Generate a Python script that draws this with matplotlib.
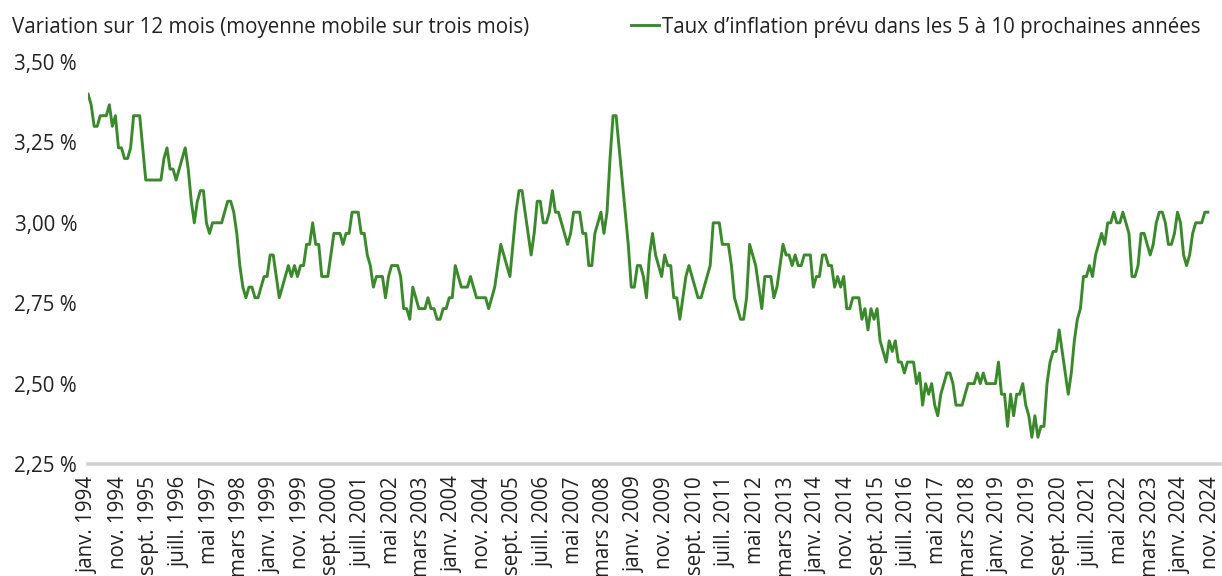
import matplotlib.pyplot as plt
from matplotlib.lines import Line2D

plt.rcParams['font.family'] = ['Open Sans', 'DejaVu Sans']

# ---- texts ----
header = "Variation sur 12 mois (moyenne mobile sur trois mois)"
series_label = "Taux d’inflation prévu dans les 5 à 10 prochaines années"

# ---- x axis: monthly, starting janv. 1994, one label every 10 months ----
start_year = 1994
month_names = ['janv.', 'févr.', 'mars', 'avr.', 'mai', 'juin',
               'juill.', 'août', 'sept.', 'oct.', 'nov.', 'déc.']
label_step = 10

# ---- expected inflation, 5-10 years ahead (3-month moving average), % ----
inflation_5_10 = [
    3.400, 3.367, 3.300, 3.300, 3.333, 3.333, 3.333, 3.367, 3.300, 3.333,
    3.233, 3.233, 3.200, 3.200, 3.233, 3.333, 3.333, 3.333, 3.233, 3.133,
    3.133, 3.133, 3.133, 3.133, 3.133, 3.200, 3.233, 3.167, 3.167, 3.133,
    3.167, 3.200, 3.233, 3.167, 3.067, 3.000, 3.067, 3.100, 3.100, 3.000,
    2.967, 3.000, 3.000, 3.000, 3.000, 3.033, 3.067, 3.067, 3.033, 2.967,
    2.867, 2.800, 2.767, 2.800, 2.800, 2.767, 2.767, 2.800, 2.833, 2.833,
    2.900, 2.900, 2.833, 2.767, 2.800, 2.833, 2.867, 2.833, 2.867, 2.833,
    2.867, 2.867, 2.933, 2.933, 3.000, 2.933, 2.933, 2.833, 2.833, 2.833,
    2.900, 2.967, 2.967, 2.967, 2.933, 2.967, 2.967, 3.033, 3.033, 3.033,
    2.967, 2.967, 2.900, 2.867, 2.800, 2.833, 2.833, 2.833, 2.767, 2.833,
    2.867, 2.867, 2.867, 2.833, 2.733, 2.733, 2.700, 2.800, 2.767, 2.733,
    2.733, 2.733, 2.767, 2.733, 2.733, 2.700, 2.700, 2.733, 2.733, 2.767,
    2.767, 2.867, 2.833, 2.800, 2.800, 2.800, 2.833, 2.800, 2.767, 2.767,
    2.767, 2.767, 2.733, 2.767, 2.800, 2.867, 2.933, 2.900, 2.867, 2.833,
    2.933, 3.033, 3.100, 3.100, 3.033, 2.967, 2.900, 2.967, 3.067, 3.067,
    3.000, 3.000, 3.033, 3.100, 3.033, 3.033, 3.000, 2.967, 2.933, 2.967,
    3.033, 3.033, 3.033, 2.967, 2.967, 2.867, 2.867, 2.967, 3.000, 3.033,
    2.967, 3.033, 3.200, 3.333, 3.333, 3.233, 3.133, 3.033, 2.933, 2.800,
    2.800, 2.867, 2.867, 2.833, 2.767, 2.900, 2.967, 2.900, 2.867, 2.833,
    2.900, 2.867, 2.867, 2.767, 2.767, 2.700, 2.767, 2.833, 2.867, 2.833,
    2.800, 2.767, 2.767, 2.800, 2.833, 2.867, 3.000, 3.000, 3.000, 2.933,
    2.933, 2.933, 2.867, 2.767, 2.733, 2.700, 2.700, 2.767, 2.933, 2.900,
    2.867, 2.800, 2.733, 2.833, 2.833, 2.833, 2.767, 2.800, 2.867, 2.933,
    2.900, 2.900, 2.867, 2.900, 2.867, 2.867, 2.900, 2.900, 2.900, 2.800,
    2.833, 2.833, 2.900, 2.900, 2.867, 2.867, 2.800, 2.833, 2.800, 2.833,
    2.733, 2.733, 2.767, 2.767, 2.767, 2.700, 2.733, 2.667, 2.733, 2.700,
    2.733, 2.633, 2.600, 2.567, 2.633, 2.600, 2.633, 2.567, 2.567, 2.533,
    2.567, 2.567, 2.567, 2.500, 2.533, 2.433, 2.500, 2.467, 2.500, 2.433,
    2.400, 2.467, 2.500, 2.533, 2.533, 2.500, 2.433, 2.433, 2.433, 2.467,
    2.500, 2.500, 2.500, 2.533, 2.500, 2.533, 2.500, 2.500, 2.500, 2.500,
    2.567, 2.467, 2.467, 2.367, 2.467, 2.400, 2.467, 2.467, 2.500, 2.433,
    2.400, 2.333, 2.400, 2.333, 2.367, 2.367, 2.500, 2.567, 2.600, 2.600,
    2.667, 2.600, 2.533, 2.467, 2.533, 2.633, 2.700, 2.733, 2.833, 2.833,
    2.867, 2.833, 2.900, 2.933, 2.967, 2.933, 3.000, 3.000, 3.033, 3.000,
    3.000, 3.033, 3.000, 2.967, 2.833, 2.833, 2.867, 2.967, 2.967, 2.933,
    2.900, 2.933, 3.000, 3.033, 3.033, 3.000, 2.933, 2.933, 2.967, 3.033,
    3.000, 2.900, 2.867, 2.900, 2.967, 3.000, 3.000, 3.000, 3.033, 3.033,
]

y_ticks = [2.25, 2.50, 2.75, 3.00, 3.25, 3.50]

months = list(range(len(inflation_5_10)))
tick_pos = list(range(0, 371, label_step))
tick_labels = [f"{month_names[m % 12]} {start_year + m // 12}" for m in tick_pos]

# ---- figure ----
fs = 14.8
fig = plt.figure(figsize=(12.22, 5.76), dpi=100)
ax = fig.add_axes([87.5 / 1222, 112 / 576, 1134 / 1222, 402 / 576])

ax.plot(months, inflation_5_10, color='#3a8a2c', lw=2.1, solid_joinstyle='round')

ax.set_xlim(-0.2, 373.5)
ax.set_ylim(2.25, 3.50)

ax.set_yticks(y_ticks)
ax.set_yticklabels([f"{v:.2f}".replace('.', ',') + " %" for v in y_ticks])
ax.set_xticks(tick_pos)
ax.set_xticklabels(tick_labels, rotation=90, va='top', ha='center')

ax.tick_params(axis='both', length=0, labelsize=fs, colors='#222222')
ax.tick_params(axis='y', pad=7.5)
ax.tick_params(axis='x', pad=9)

for side in ['top', 'right', 'left']:
    ax.spines[side].set_visible(False)
ax.spines['bottom'].set_color('#d0d0d4')
ax.spines['bottom'].set_linewidth(2.6)
ax.patch.set_visible(False)

fig.text(12 / 1222, 1 - 27 / 576, header, fontsize=fs, color='#222222',
         va='center', ha='left')
fig.legend([Line2D([], [], color='#3a8a2c', lw=2.1)], [series_label],
           loc='center right', bbox_to_anchor=(1200 / 1222, 1 - 27 / 576),
           frameon=False, fontsize=fs, handlelength=1.35, handletextpad=0.12,
           borderpad=0, borderaxespad=0, labelcolor='#222222')

fig.savefig('out.png', dpi=100)
